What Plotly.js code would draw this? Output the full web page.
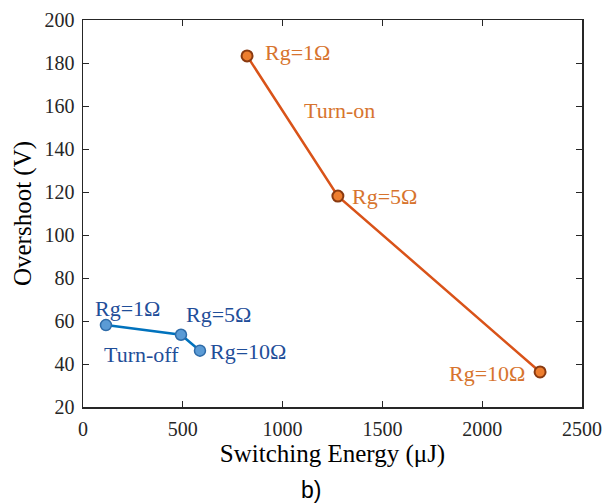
<!DOCTYPE html>
<html><head><meta charset="utf-8">
<script src="https://cdn.plot.ly/plotly-3.0.1.min.js"></script>
<style>html,body{margin:0;padding:0;background:#fff;}#chart{width:611px;height:504px;}</style>
</head><body><div id="chart"></div>
<script>
const rgLabels = ["Rg=1Ω", "Rg=5Ω", "Rg=10Ω"];
const turnOnEnergy = [822, 1277, 2290];
const turnOnOvershoot = [183.3, 118.1, 36.3];
const turnOffEnergy = [115, 491, 586];
const turnOffOvershoot = [58.1, 53.6, 46.2];

const onColor = '#D95319', onFill = '#EE7E2F', onEdge = '#8A3A10', onText = '#D7742E';
const offColor = '#0072BD', offFill = '#5B9BD5', offEdge = '#2E6BA8', offText = '#1F4E99';
const serif = 'Liberation Serif, Times New Roman, serif';

const traces = [
  {x: turnOnEnergy, y: turnOnOvershoot, mode: 'lines+markers', type: 'scatter',
   line: {color: onColor, width: 2.5},
   marker: {size: 11, color: onFill, line: {color: onEdge, width: 2}}},
  {x: turnOffEnergy, y: turnOffOvershoot, mode: 'lines+markers', type: 'scatter',
   line: {color: offColor, width: 2.5},
   marker: {size: 11, color: offFill, line: {color: offEdge, width: 1.5}}}
];

const annFont = (c) => ({family: serif, size: 22, color: c});
const annotations = [
  {x: 902, y: 184.7, text: rgLabels[0], xanchor: 'left', font: annFont(onText)},
  {x: 1097, y: 157.7, text: 'Turn-on', xanchor: 'left', font: annFont(onText)},
  {x: 1338, y: 118.1, text: rgLabels[1], xanchor: 'left', font: annFont(onText)},
  {x: 2224, y: 35.8, text: rgLabels[2], xanchor: 'right', font: annFont(onText)},
  {x: 50, y: 66, text: rgLabels[0], xanchor: 'left', font: annFont(offText)},
  {x: 506, y: 62.8, text: rgLabels[1], xanchor: 'left', font: annFont(offText)},
  {x: 95, y: 44.2, text: 'Turn-off', xanchor: 'left', font: annFont(offText)},
  {x: 626, y: 45.6, text: rgLabels[2], xanchor: 'left', font: annFont(offText)}
].map(a => Object.assign({xref: 'x', yref: 'y', showarrow: false, yanchor: 'middle'}, a));
annotations.push({xref: 'paper', yref: 'paper', x: 0.457, y: -0.215, text: 'b)', showarrow: false,
  xanchor: 'center', yanchor: 'middle', font: {family: 'Liberation Sans, Arial, sans-serif', size: 23, color: '#000'}});

const axisCommon = {
  showline: true, mirror: 'ticks', linecolor: '#262626', linewidth: 1.5,
  ticks: 'inside', ticklen: 6, tickcolor: '#262626', tickwidth: 1,
  showgrid: false, zeroline: false, ticklabelstandoff: 3,
  tickfont: {family: serif, size: 20, color: '#262626'}
};

const layout = {
  width: 611, height: 504,
  margin: {l: 83, r: 29, t: 20, b: 97},
  paper_bgcolor: '#fff', plot_bgcolor: '#fff',
  showlegend: false,
  xaxis: Object.assign({}, axisCommon, {range: [0, 2500], dtick: 500, tick0: 0,
    title: {text: 'Switching Energy (μJ)', font: {family: serif, size: 25, color: '#000'}, standoff: 4}}),
  yaxis: Object.assign({}, axisCommon, {range: [20, 200], dtick: 20, tick0: 20,
    title: {text: 'Overshoot (V)', font: {family: serif, size: 25, color: '#000'}, standoff: 6}}),
  annotations: annotations
};

Plotly.newPlot('chart', traces, layout, {displayModeBar: false, staticPlot: true});
</script></body></html>
